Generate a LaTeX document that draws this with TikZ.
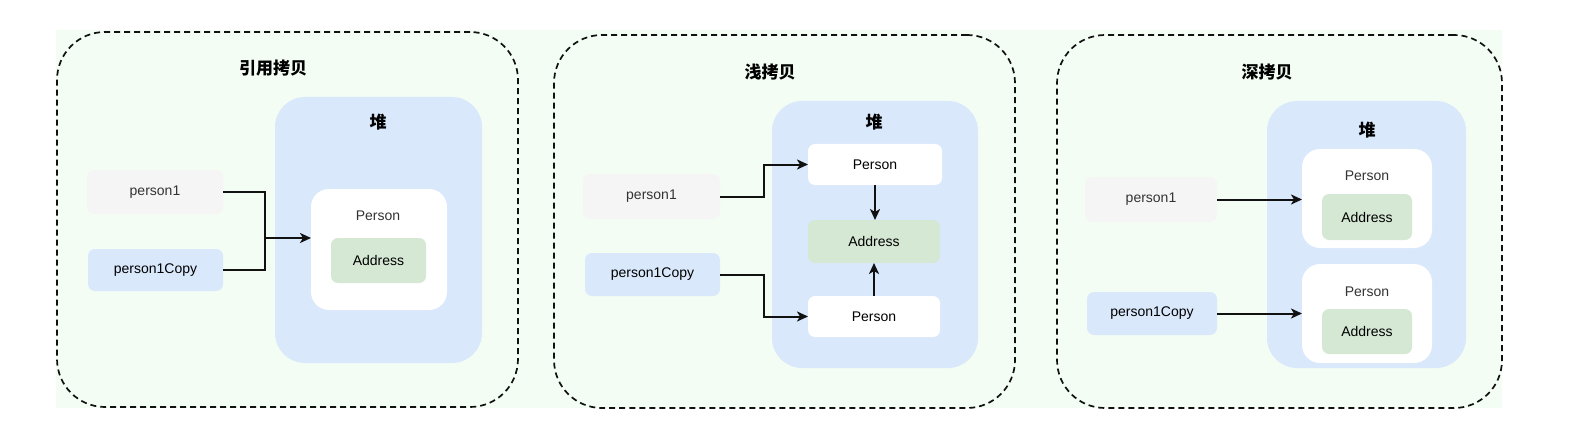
\documentclass[tikz,border=0pt]{standalone}
\usepackage{fontspec}
\setmainfont{Liberation Sans}
\newfontfamily\cjk{Noto Sans CJK SC}
\usetikzlibrary{arrows.meta}
\definecolor{bggreen}{HTML}{F3FDF4}
\definecolor{heapblue}{HTML}{DAE8FC}
\definecolor{graybox}{HTML}{F5F5F5}
\definecolor{addrgreen}{HTML}{D5E8D4}
\definecolor{txtgray}{HTML}{333333}
\definecolor{linec}{HTML}{111111}
\tikzset{
  x=1pt, y=-1pt,
  box/.style={inner sep=0pt, outer sep=0pt, draw=none, font=\fontsize{14}{16}\selectfont},
  frame/.style={inner sep=0pt, draw=linec, line width=1.7pt, dash pattern=on 6pt off 4pt, rounded corners=48pt},
  heapbox/.style={box, fill=heapblue, rounded corners=30pt},
  perbig/.style={box, fill=white, rounded corners=18pt},
  persmall/.style={box, fill=white, rounded corners=7pt},
  addr/.style={box, fill=addrgreen, rounded corners=7pt},
  pone/.style={box, fill=graybox, rounded corners=7pt, text=txtgray},
  pcopy/.style={box, fill=heapblue, rounded corners=7pt},
  ttl/.style={inner sep=0pt, font=\cjk\bfseries\fontsize{17}{20}\selectfont},
  heapttl/.style={inner sep=0pt, font=\cjk\bfseries\fontsize{17}{20}\selectfont},
  lbl/.style={inner sep=0pt, font=\fontsize{14}{16}\selectfont, text=txtgray},
  conn/.style={draw=linec, line width=2pt},
  arr/.style={conn, -{Stealth[length=11pt,width=10pt,inset=3pt]}},
}
\begin{document}
\begin{tikzpicture}
\useasboundingbox (0,0) rectangle (1582,441);
\fill[white] (0,0) rectangle (1582,441);
\fill[bggreen] (56,30) rectangle (1502,408);

% ---------- Panel 1 ----------
\node[frame, minimum width=461pt, minimum height=375pt] (frame1) at (287.5,219.5) {};
\node[ttl] (title1) at (273,68) {引用拷贝};
\node[heapbox, minimum width=207pt, minimum height=266pt] (heap1) at (378.5,230) {};
\node[heapttl] (heapt1) at (378,122) {堆};
\node[perbig, minimum width=136pt, minimum height=121pt] (per1) at (379,249.5) {};
\node[lbl] (per1t) at (378,216) {Person};
\node[addr, minimum width=95pt, minimum height=45pt] (addr1) at (378.5,260.5) {Address};
\node[pone, minimum width=136pt, minimum height=44pt] (p1) at (155,192) {person1};
\node[pcopy, minimum width=135pt, minimum height=42pt] (p1c) at (155.5,270) {person1Copy};
\coordinate (j1) at (265,238);
\draw[conn] (p1.east) -| (j1);
\draw[conn] (p1c.east) -| (j1);
\draw[arr] (j1) -- (j1 -| per1.west);

% ---------- Panel 2 ----------
\node[frame, minimum width=461pt, minimum height=373pt] (frame2) at (784.5,221.5) {};
\node[ttl] (title2) at (770,72) {浅拷贝};
\node[heapbox, minimum width=206pt, minimum height=267pt] (heap2) at (875,234.5) {};
\node[heapttl] (heapt2) at (874,122) {堆};
\node[persmall, minimum width=134pt, minimum height=41pt] (per2a) at (875,164.5) {Person};
\node[addr, minimum width=132pt, minimum height=43pt] (addr2) at (874,241.5) {Address};
\node[persmall, minimum width=132pt, minimum height=41pt] (per2b) at (874,316.5) {Person};
\node[pone, minimum width=137pt, minimum height=45pt] (p2) at (651.5,196.5) {person1};
\node[pcopy, minimum width=135pt, minimum height=43pt] (p2c) at (652.5,274.5) {person1Copy};
\draw[arr] (p2.east) -- ++(44,0) |- (per2a.west);
\draw[arr] (p2c.east) -- ++(44,0) |- (per2b.west);
\draw[arr] (per2a.south) -- (per2a.south |- addr2.north);
\draw[arr] (per2b.north) -- (per2b.north |- addr2.south);

% ---------- Panel 3 ----------
\node[frame, minimum width=445pt, minimum height=373pt] (frame3) at (1279.5,221.5) {};
\node[ttl] (title3) at (1267,72) {深拷贝};
\node[heapbox, minimum width=199pt, minimum height=267pt] (heap3) at (1366.5,234.5) {};
\node[heapttl] (heapt3) at (1367,130) {堆};
\node[perbig, minimum width=130pt, minimum height=99pt] (per3a) at (1367,198.5) {};
\node[lbl] (per3at) at (1367,176) {Person};
\node[addr, minimum width=90pt, minimum height=46pt] (addr3a) at (1367,217) {Address};
\node[perbig, minimum width=130pt, minimum height=99pt] (per3b) at (1367,313.5) {};
\node[lbl] (per3bt) at (1367,292) {Person};
\node[addr, minimum width=90pt, minimum height=45pt] (addr3b) at (1367,331.5) {Address};
\node[pone, minimum width=132pt, minimum height=45pt] (p3) at (1151,199.5) {person1};
\node[pcopy, minimum width=130pt, minimum height=43pt] (p3c) at (1152,313.5) {person1Copy};
\draw[arr] (p3.east) -- (p3.east -| per3a.west);
\draw[arr] (p3c.east) -- (p3c.east -| per3b.west);
\end{tikzpicture}
\end{document}
